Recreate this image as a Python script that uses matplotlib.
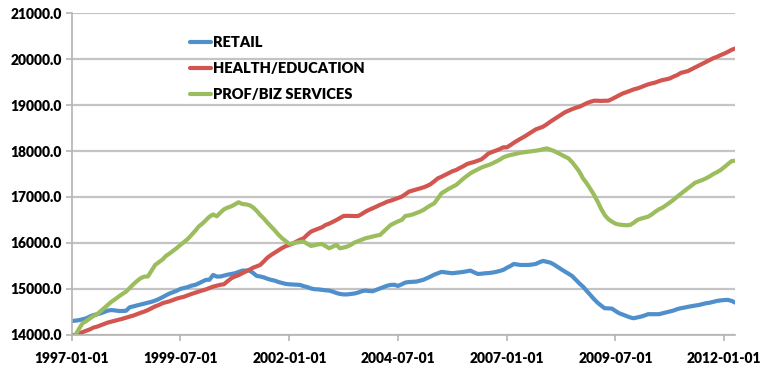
import pandas as pd
import matplotlib.pyplot as plt
from matplotlib.ticker import FormatStrFormatter

plt.rcParams['font.family'] = ['Lato', 'DejaVu Sans']

# monthly series, 1997-01 .. 2012-04 (thousands of jobs)
retail = [
    14300, 14310, 14320, 14340, 14360, 14400, 14430, 14450, 14470, 14500, 14530, 14540,
    14530, 14520, 14520, 14525, 14600, 14620, 14640, 14660, 14680, 14700, 14720, 14746,
    14780, 14820, 14860, 14900, 14930, 14960, 15000, 15020, 15040, 15070, 15087, 15120,
    15160, 15196, 15200, 15304, 15268, 15270, 15290, 15310, 15326, 15340, 15370, 15398,
    15400, 15398, 15350, 15283, 15270, 15250, 15220, 15196, 15180, 15150, 15130, 15109,
    15100, 15095, 15090, 15087, 15060, 15040, 15010, 14993, 14990, 14980, 14970, 14964,
    14940, 14910, 14891, 14880, 14880, 14891, 14900, 14920, 14950, 14964, 14955, 14949,
    14980, 15010, 15040, 15070, 15087, 15090, 15065, 15100, 15138, 15150, 15155, 15159,
    15180, 15200, 15232, 15270, 15310, 15340, 15370, 15360, 15350, 15341, 15350, 15360,
    15370, 15385, 15398, 15360, 15326, 15330, 15340, 15345, 15355, 15370, 15390, 15413,
    15460, 15500, 15543, 15530, 15520, 15522, 15522, 15530, 15543, 15580, 15609, 15590,
    15572, 15530, 15480, 15428, 15380, 15330, 15283, 15200, 15120, 15050, 14960, 14870,
    14780, 14700, 14640, 14580, 14575, 14572, 14520, 14471, 14440, 14410, 14380, 14362,
    14380, 14398, 14420, 14450, 14450, 14450, 14450, 14470, 14490, 14507, 14530, 14560,
    14580, 14594, 14610, 14625, 14638, 14650, 14670, 14689, 14700, 14720, 14739, 14750,
    14758, 14761, 14740, 14703,
]
health = [
    13990, 14000, 14030, 14060, 14090, 14120, 14159, 14180, 14210, 14240, 14270, 14290,
    14311, 14330, 14350, 14375, 14398, 14420, 14450, 14480, 14507, 14540, 14580, 14620,
    14650, 14689, 14710, 14730, 14760, 14790, 14811, 14830, 14860, 14890, 14915, 14942,
    14965, 14990, 15020, 15050, 15070, 15090, 15102, 15170, 15233, 15270, 15300, 15341,
    15380, 15420, 15460, 15490, 15522, 15600, 15680, 15739, 15790, 15840, 15890, 15930,
    15957, 15990, 16030, 16070, 16102, 16180, 16246, 16280, 16310, 16340, 16391, 16420,
    16460, 16500, 16540, 16587, 16590, 16587, 16585, 16587, 16630, 16680, 16720, 16754,
    16790, 16830, 16860, 16898, 16920, 16950, 16980, 17007, 17060, 17116, 17140, 17165,
    17189, 17210, 17239, 17280, 17340, 17406, 17440, 17480, 17520, 17560, 17587, 17630,
    17670, 17717, 17740, 17760, 17790, 17819, 17880, 17949, 17980, 18010, 18040, 18080,
    18080, 18130, 18180, 18230, 18275, 18320, 18370, 18420, 18471, 18500, 18529, 18580,
    18638, 18690, 18740, 18790, 18840, 18877, 18910, 18940, 18964, 19000, 19040, 19070,
    19094, 19094, 19090, 19094, 19094, 19130, 19170, 19210, 19254, 19280, 19310, 19340,
    19362, 19390, 19420, 19450, 19471, 19490, 19520, 19545, 19560, 19580, 19620, 19652,
    19700, 19720, 19739, 19780, 19819, 19860, 19900, 19942, 19980, 20020, 20050, 20087,
    20120, 20159, 20200, 20232,
]
profbiz = [
    13900, 14000, 14130, 14254, 14300, 14360, 14410, 14450, 14520, 14590, 14660, 14725,
    14780, 14840, 14890, 14942, 15020, 15100, 15170, 15233, 15268, 15270, 15400, 15522,
    15580, 15640, 15717, 15770, 15830, 15890, 15957, 16020, 16087, 16170, 16260, 16355,
    16420, 16500, 16572, 16620, 16580, 16660, 16732, 16770, 16797, 16840, 16885, 16848,
    16840, 16820, 16776, 16700, 16609, 16530, 16440, 16355, 16270, 16180, 16102, 16040,
    15978, 15990, 16010, 16020, 16029, 15980, 15935, 15950, 15970, 15978, 15930, 15884,
    15920, 15957, 15884, 15900, 15920, 15960, 16007, 16040, 16070, 16102, 16120, 16140,
    16160, 16174, 16246, 16320, 16391, 16430, 16470, 16500, 16587, 16600, 16620, 16650,
    16681, 16720, 16770, 16820, 16862, 16970, 17080, 17130, 17180, 17220, 17261, 17330,
    17400, 17460, 17515, 17560, 17600, 17640, 17670, 17696, 17730, 17768, 17810, 17860,
    17890, 17913, 17930, 17950, 17965, 17975, 17985, 17995, 18007, 18020, 18040, 18058,
    18030, 18000, 17963, 17920, 17880, 17841, 17760, 17659, 17550, 17406, 17300, 17180,
    17050, 16900, 16750, 16609, 16520, 16464, 16420, 16400, 16391, 16385, 16391, 16440,
    16500, 16530, 16550, 16572, 16620, 16681, 16732, 16770, 16826, 16880, 16940, 17007,
    17070, 17130, 17189, 17250, 17311, 17340, 17370, 17406, 17450, 17500, 17540, 17587,
    17650, 17717, 17780, 17790,
]
tick_labels = ['1997-01-01', '1999-07-01', '2002-01-01', '2004-07-01',
               '2007-01-01', '2009-07-01', '2012-01-01']

dates = pd.date_range('1997-01-01', periods=len(retail), freq='MS')

fig = plt.figure(figsize=(7.65, 3.75), dpi=100)
ax = fig.add_axes([0.094, 0.107, 0.867, 0.858])

ax.plot(dates, retail, color='#4f8fcc', lw=3, label='RETAIL', solid_capstyle='round')
ax.plot(dates, health, color='#d25550', lw=3, label='HEALTH/EDUCATION', solid_capstyle='round')
ax.plot(dates, profbiz, color='#9bbd5d', lw=3, label='PROF/BIZ SERVICES', solid_capstyle='round')

ax.set_ylim(14000, 21000)
ax.set_xlim(dates[0], dates[-1])
ax.set_yticks(range(14000, 21001, 1000))
ax.yaxis.set_major_formatter(FormatStrFormatter('%.1f'))
ax.set_xticks(pd.to_datetime(tick_labels))
ax.set_xticklabels(tick_labels)

ax.grid(axis='y', color='#c4c4c4', lw=1.6)
ax.set_axisbelow(True)
for s in ['top', 'right']:
    ax.spines[s].set_visible(False)
for s in ['left', 'bottom']:
    ax.spines[s].set_color('#b4b4b4')
    ax.spines[s].set_linewidth(1.2)
ax.tick_params(axis='both', color='#b4b4b4', width=1.2, length=4, direction='out')
ax.tick_params(axis='x', pad=8)
ax.tick_params(axis='y', pad=3)
for lab in ax.get_xticklabels() + ax.get_yticklabels():
    lab.set_fontweight('heavy')
    lab.set_fontsize(10)

leg = ax.legend(loc='upper left', bbox_to_anchor=(0.178, 0.93), frameon=False,
                handlelength=1.45, handletextpad=0.1, labelspacing=0.92,
                borderaxespad=0, borderpad=0, prop={'weight': 'heavy', 'size': 10.5})

fig.savefig('out.png', dpi=100)
